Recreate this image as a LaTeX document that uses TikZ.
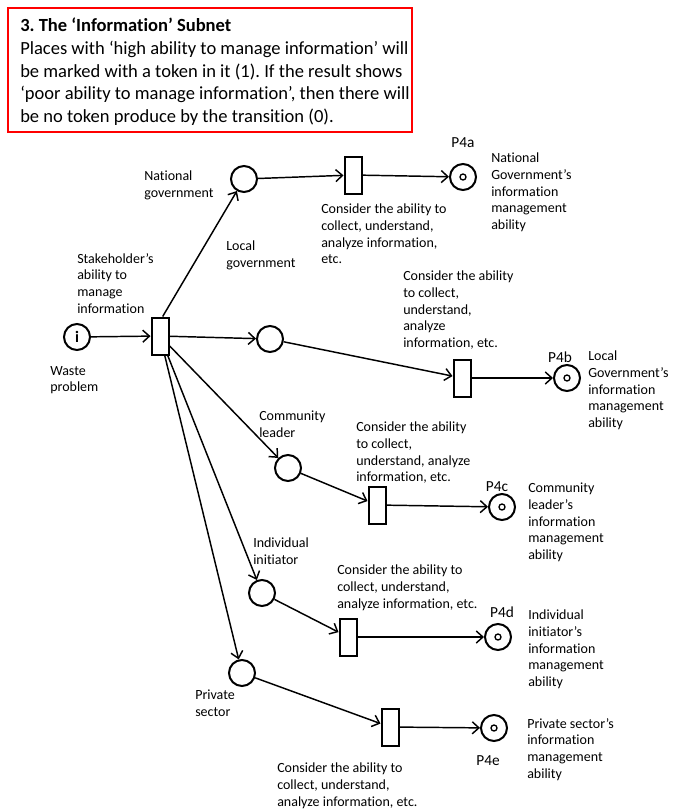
\documentclass[tikz,border=0pt]{standalone}
\usepackage{fontspec}
\setmainfont{Carlito}[Ligatures={NoCommon}]
\usepackage{tikz}
\usetikzlibrary{arrows.meta}
\frenchspacing

\begin{document}
\begin{tikzpicture}[x=0.75pt, y=-0.75pt,
    >={Straight Barb[length=5pt, width=9pt]},
    placenode/.style={circle, draw, line width=1.5pt, minimum size=19.5pt, inner sep=0pt},
    transnode/.style={rectangle, draw, line width=1.5pt, minimum width=12.75pt, minimum height=27.75pt, inner sep=0pt},
    flow/.style={->, line width=1.1pt},
    lbl/.style={anchor=north west, inner sep=0pt, align=left, font=\fontsize{10.5}{12.5}\selectfont},
    pname/.style={inner sep=0pt, font=\fontsize{11.5}{13}\selectfont}]
    \useasboundingbox (0,0) rectangle (673,810);

    % header
    \draw[red, line width=1.5pt] (8,8) rectangle (412,132);
    \node (hdr) [anchor=north west, inner sep=0pt, align=left, font=\fontsize{13.9}{17}\selectfont] at (20,18)
        {\textbf{3. The ‘Information’ Subnet}\\
         Places with ‘high ability to manage information’ will\\
         be marked with a token in it (1). If the result shows\\
         ‘poor ability to manage information’, then there will\\
         be no token produce by the transition (0).};

    % places and transitions
    \node[placenode, font=\bfseries\fontsize{12}{12}\selectfont] (pin) at (77,337) {i};
    \node[transnode] (tstake) at (160,336) {};
    \node[placenode] (pnat) at (244,179) {};
    \node[placenode] (ploc) at (270,339) {};
    \node[placenode] (pcom) at (288,468) {};
    \node[placenode] (pind) at (262,593) {};
    \node[placenode] (ppri) at (242,673) {};

    \node[transnode] (t4a) at (353,175) {};
    \node[transnode] (t4b) at (462,378) {};
    \node[transnode] (t4c) at (377,505) {};
    \node[transnode] (t4d) at (348,637) {};
    \node[transnode] (t4e) at (390,727) {};

    \node[placenode] (p4a) at (463,177) {};
    \node[placenode] (p4b) at (567,378) {};
    \node[placenode] (p4c) at (502,507) {};
    \node[placenode] (p4d) at (498,637) {};
    \node[placenode] (p4e) at (494,728) {};

    % tokens
    \foreach \p in {p4a,p4b,p4c,p4d,p4e}
        \draw[line width=1pt] (\p.center) circle (2.25pt);

    % arcs
    \draw[flow] (pin) -- (tstake);
    \draw[flow] ([xshift=2pt]tstake.north) -- (pnat);
    \draw[flow] (tstake) -- (ploc);
    \draw[flow] (tstake) -- (pcom);
    \draw[flow] (tstake) -- (pind);
    \draw[flow] (tstake) -- (ppri);

    \draw[flow] (pnat) -- (t4a);
    \draw[flow] (ploc) -- (t4b);
    \draw[flow] (pcom) -- (t4c);
    \draw[flow] (pind) -- (t4d);
    \draw[flow] (ppri) -- (t4e);

    \draw[flow] (t4a) -- (p4a);
    \draw[flow] (t4b) -- (p4b);
    \draw[flow] (t4c) -- (p4c);
    \draw[flow] (t4d) -- (p4d);
    \draw[flow] (t4e) -- (p4e);

    % labels
    \node[lbl] (lstake) at (77,253) {Stakeholder’s\\ability to\\manage\\information};
    \node[lbl] (lwaste) at (50,366) {Waste\\problem};
    \node[lbl] (lnat) at (144,171) {National\\government};
    \node[lbl] (lloc) at (226,241) {Local\\government};
    \node[lbl] (lcom) at (259,411) {Community\\leader};
    \node[lbl] (lind) at (253,538) {Individual\\initiator};
    \node[lbl] (lpri) at (195,690) {Private\\sector};

    \node[lbl] (ct4a) at (321,204) {Consider the ability to\\collect, understand,\\analyze information,\\etc.};
    \node[lbl] (ct4b) at (403,271) {Consider the ability\\to collect,\\understand,\\analyze\\information, etc.};
    \node[lbl] (ct4c) at (356,422) {Consider the ability\\to collect,\\understand, analyze\\information, etc.};
    \node[lbl] (ct4d) at (337,565) {Consider the ability to\\collect, understand,\\analyze information, etc.};
    \node[lbl] (ct4e) at (277,763) {Consider the ability to\\collect, understand,\\analyze information, etc.};

    \node[lbl] (dp4a) at (491,153) {National\\Government’s\\information\\management\\ability};
    \node[lbl] (dp4b) at (588,351) {Local\\Government’s\\information\\management\\ability};
    \node[lbl] (dp4c) at (528,483) {Community\\leader’s\\information\\management\\ability};
    \node[lbl] (dp4d) at (528,610) {Individual\\initiator’s\\information\\management\\ability};
    \node[lbl] (dp4e) at (527,718) {Private sector’s\\information\\management\\ability};

    \node[pname] (np4a) at (463,143) {P4a};
    \node[pname] (np4b) at (560,357) {P4b};
    \node[pname] (np4c) at (497,487) {P4c};
    \node[pname] (np4d) at (502,612) {P4d};
    \node[pname] (np4e) at (488,761) {P4e};
\end{tikzpicture}
\end{document}
